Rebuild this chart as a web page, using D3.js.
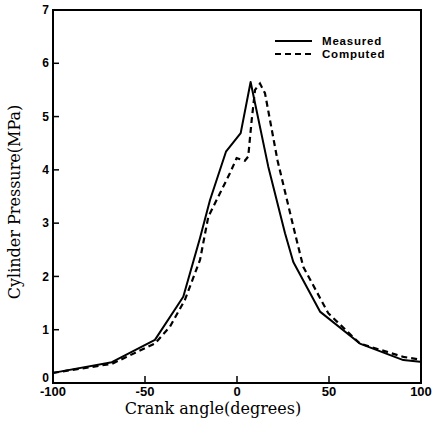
<!DOCTYPE html>
<html>
<head>
<meta charset="utf-8">
<script src="https://cdn.jsdelivr.net/npm/d3@7"></script>
<style>
    body { margin: 0; background: #fff; }
    .tick-label { font-family: "Liberation Sans", Arial, sans-serif; font-weight: bold; font-size: 12px; fill: #000; }
    .axis-title { font-family: "DejaVu Serif", serif; font-size: 16px; fill: #000; }
    .legend-label { font-family: "Liberation Sans", Arial, sans-serif; font-weight: bold; font-size: 11.5px; letter-spacing: 0.8px; fill: #000; }
</style>
</head>
<body>
<svg id="chart" width="432" height="421"></svg>
<script>
// measured cylinder pressure (solid)
var measuredAngle = [-100, -68, -44.6, -29.2, -20.1, -14.7, -6, 2, 7.4, 17, 26.1, 30.6, 45.1, 66.8, 90.4, 99.5];
var measuredPressure = [0.19, 0.39, 0.81, 1.62, 2.72, 3.43, 4.34, 4.69, 5.65, 4.06, 2.81, 2.27, 1.34, 0.74, 0.43, 0.40];

// computed cylinder pressure (dashed)
var computedAngle = [-100, -68, -44.6, -36.4, -28.3, -20.1, -15.6, -3.8, -0.2, 4.3, 6.1, 8, 9.8, 12.5, 15.2, 22, 31.5, 36, 49.6, 66.8, 90.4, 99.5];
var computedPressure = [0.19, 0.36, 0.74, 1.06, 1.56, 2.31, 3.12, 3.94, 4.22, 4.17, 4.25, 4.94, 5.5, 5.62, 5.44, 4.18, 2.81, 2.18, 1.31, 0.74, 0.49, 0.44];

var xTicks = [-100, -50, 0, 50, 100];
var yTicks = [0, 1, 2, 3, 4, 5, 6, 7];
var seriesNames = ["Measured", "Computed"];

(function () {
    "use strict";

    var svg = d3.select("#chart"),
        left = 53,
        right = 421,
        top = 10,
        bottom = 383;

    var x = d3.scaleLinear().domain([-100, 100]).range([left, right]);
    var y = d3.scaleLinear().domain([0, 7]).range([bottom, top]);

    function toPoints(xs, ys) {
        return xs.map(function (v, i) { return [v, ys[i]]; });
    }

    var line = d3.line()
        .x(function (d) { return x(d[0]); })
        .y(function (d) { return y(d[1]); });

    // frame
    svg.append("rect")
        .attr("x", left)
        .attr("y", top)
        .attr("width", right - left)
        .attr("height", bottom - top)
        .attr("fill", "none")
        .attr("stroke", "#000")
        .attr("stroke-width", 2);

    // x ticks point up into the plot
    svg.selectAll("line.xtick")
        .data(xTicks)
        .enter().append("line")
        .classed("xtick", true)
        .attr("x1", function (d) { return x(d); })
        .attr("x2", function (d) { return x(d); })
        .attr("y1", bottom)
        .attr("y2", bottom - 7)
        .attr("stroke", "#000")
        .attr("stroke-width", 1.5);

    svg.selectAll("text.xlab")
        .data(xTicks)
        .enter().append("text")
        .attr("class", "tick-label xlab")
        .attr("x", function (d) { return x(d); })
        .attr("y", bottom + 13)
        .attr("text-anchor", "middle")
        .style("font-size", "13px")
        .text(function (d) { return d < 0 ? "-" + Math.abs(d) : d; });

    // y ticks
    svg.selectAll("line.ytick")
        .data(yTicks.slice(1, -1))
        .enter().append("line")
        .classed("ytick", true)
        .attr("x1", left - 1)
        .attr("x2", left + 6)
        .attr("y1", function (d) { return y(d); })
        .attr("y2", function (d) { return y(d); })
        .attr("stroke", "#000")
        .attr("stroke-width", 1.5);

    svg.selectAll("text.ylab")
        .data(yTicks)
        .enter().append("text")
        .attr("class", "tick-label ylab")
        .attr("x", left - 4)
        .attr("y", function (d) { return d === 0 ? y(d) - 5 : y(d); })
        .attr("dy", "0.35em")
        .attr("text-anchor", "end")
        .text(function (d) { return d; });

    // curves
    svg.append("path")
        .datum(toPoints(measuredAngle, measuredPressure))
        .attr("d", line)
        .attr("fill", "none")
        .attr("stroke", "#000")
        .attr("stroke-width", 2)
        .attr("stroke-linejoin", "round");

    svg.append("path")
        .datum(toPoints(computedAngle, computedPressure))
        .attr("d", line)
        .attr("fill", "none")
        .attr("stroke", "#000")
        .attr("stroke-width", 2.2)
        .attr("stroke-dasharray", "6,4");

    // legend
    var legend = svg.append("g").attr("transform", "translate(275, 41)");
    seriesNames.forEach(function (name, i) {
        legend.append("line")
            .attr("x1", 0)
            .attr("x2", 37)
            .attr("y1", i * 13)
            .attr("y2", i * 13)
            .attr("stroke", "#000")
            .attr("stroke-width", 2)
            .attr("stroke-dasharray", i === 0 ? null : "6,4");
        legend.append("text")
            .attr("class", "legend-label")
            .attr("x", 47)
            .attr("y", i * 13 + 4)
            .text(name);
    });

    // axis titles
    svg.append("text")
        .attr("class", "axis-title")
        .attr("x", 213)
        .attr("y", 414)
        .attr("text-anchor", "middle")
        .text("Crank angle(degrees)");

    svg.append("text")
        .attr("class", "axis-title")
        .attr("transform", "translate(20, 202) rotate(-90)")
        .attr("text-anchor", "middle")
        .text("Cylinder Pressure(MPa)");
}());
</script>
</body>
</html>
